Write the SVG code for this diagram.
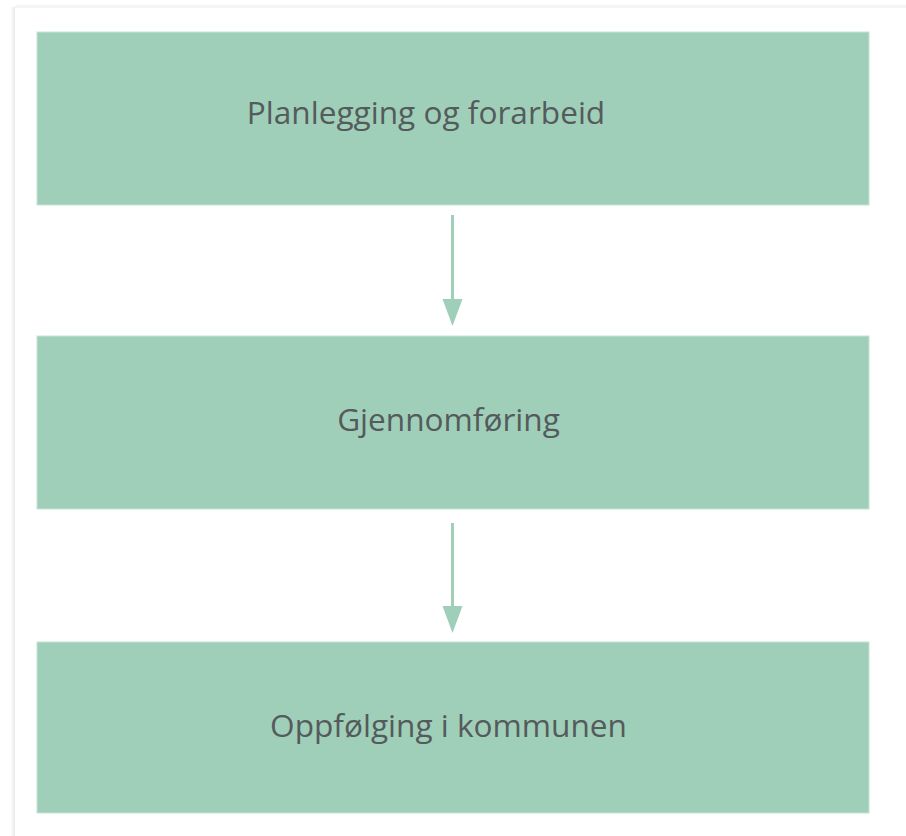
<svg xmlns="http://www.w3.org/2000/svg" width="906" height="836" viewBox="0 0 906 836">
<defs>
<style>
.box{fill:#9fcfb8;stroke:#c5e3d5;stroke-width:1}
.lbl{font-family:"Open Sans","Liberation Sans",sans-serif;font-size:31.6px;fill:#555a5c;text-anchor:middle}
.edge{stroke:#9fcfb8;stroke-width:3;fill:none}
</style>
<linearGradient id="sh" x1="0" y1="0" x2="1" y2="0"><stop offset="0" stop-color="#f2f2f2" stop-opacity="0"/><stop offset="1" stop-color="#e6e6e6"/></linearGradient>
</defs>
<rect width="906" height="836" fill="#ffffff"/>
<rect x="10" y="7" width="5" height="829" fill="url(#sh)"/>
<rect x="15" y="5" width="891" height="3" fill="#f5f5f5"/>
<g id="connectors">
<line class="edge" x1="452.5" y1="215" x2="452.5" y2="300"/>
<path d="M442.5,299 L462.5,299 L452.5,326 Z" fill="#9fcfb8"/>
<line class="edge" x1="452.5" y1="523" x2="452.5" y2="607"/>
<path d="M442.5,606 L462.5,606 L452.5,633 Z" fill="#9fcfb8"/>
</g>
<g id="node1">
<rect class="box" x="37" y="32" width="832" height="173"/>
<text class="lbl" x="426" y="124">Planlegging og forarbeid</text>
</g>
<g id="node2">
<rect class="box" x="37" y="336" width="832" height="173"/>
<text class="lbl" x="448.5" y="431">Gjennomføring</text>
</g>
<g id="node3">
<rect class="box" x="37" y="642" width="832" height="171"/>
<text class="lbl" x="448.5" y="737">Oppfølging i kommunen</text>
</g>
</svg>
